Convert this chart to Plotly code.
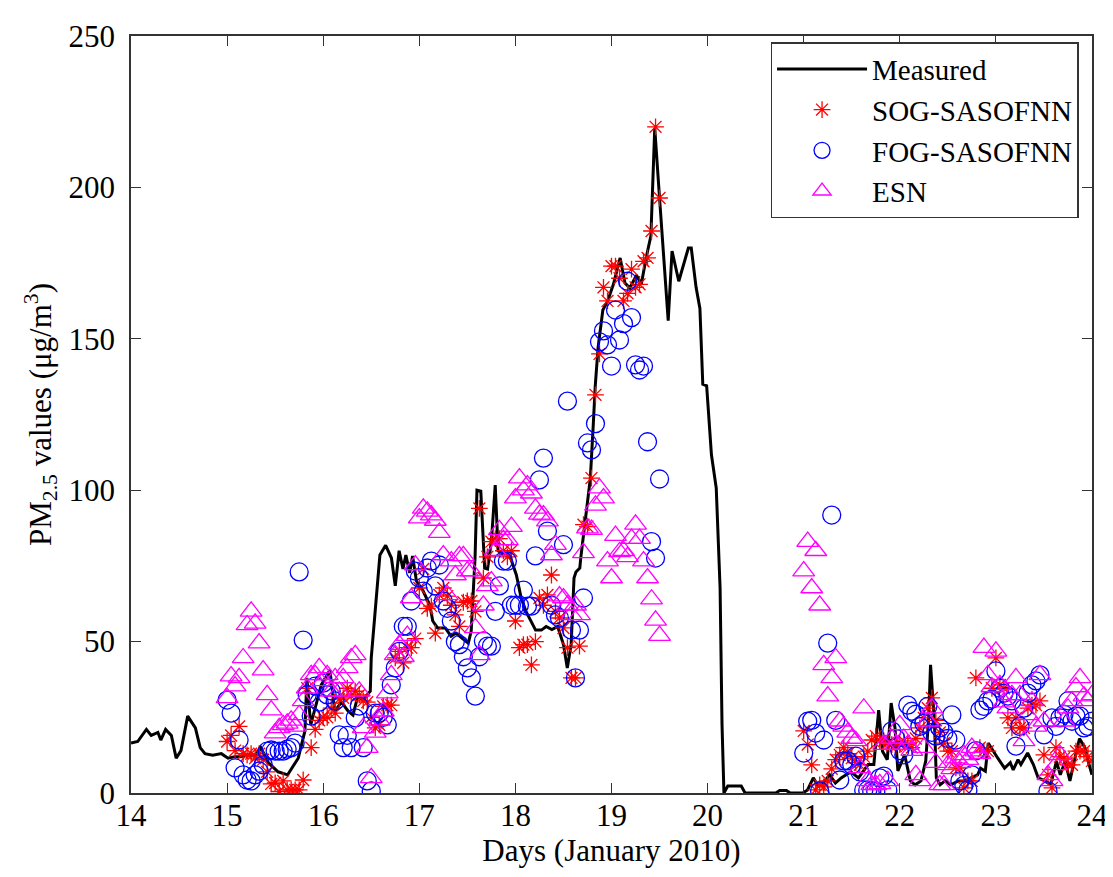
import plotly.graph_objects as go

# ---------------- data ----------------
measured_days = [14.00, 14.07, 14.16, 14.21, 14.28, 14.31, 14.36, 14.42, 14.47, 14.52,
                 14.59, 14.67, 14.72, 14.77, 14.85, 14.94, 15.01, 15.08, 15.14, 15.22,
                 15.29, 15.35, 15.43, 15.53, 15.63, 15.74, 15.81, 15.83, 15.87, 15.98,
                 16.07, 16.12, 16.19, 16.26, 16.31, 16.36, 16.41, 16.49, 16.50, 16.54,
                 16.59, 16.65, 16.71, 16.75, 16.79, 16.83, 16.86, 16.90, 16.93, 16.97,
                 17.04, 17.11, 17.14, 17.19, 17.27, 17.33, 17.38, 17.45, 17.51, 17.54,
                 17.58, 17.60, 17.64, 17.68, 17.71, 17.75, 17.79, 17.82, 17.89, 17.95,
                 18.01, 18.06, 18.11, 18.16, 18.21, 18.27, 18.32, 18.38, 18.44, 18.50,
                 18.54, 18.58, 18.61, 18.63, 18.67, 18.68, 18.72, 18.78, 18.81, 18.83,
                 18.86, 18.91, 18.96, 19.02, 19.09, 19.14, 19.19, 19.26, 19.31, 19.36,
                 19.41, 19.45, 19.50, 19.54, 19.59, 19.63, 19.70, 19.80, 19.83, 19.88,
                 19.92, 19.95, 19.99, 20.04, 20.09, 20.13, 20.15, 20.17, 20.21, 20.35,
                 20.39, 20.71, 20.75, 20.82, 20.86, 20.99, 21.04, 21.10, 21.15, 21.22,
                 21.27, 21.33, 21.39, 21.49, 21.57, 21.67, 21.73, 21.78, 21.82, 21.87,
                 21.91, 21.95, 21.98, 22.05, 22.11, 22.16, 22.22, 22.27, 22.30, 22.32,
                 22.36, 22.38, 22.42, 22.47, 22.53, 22.61, 22.68, 22.74, 22.81, 22.84,
                 22.89, 22.92, 22.97, 23.02, 23.09, 23.15, 23.18, 23.23, 23.26, 23.33,
                 23.39, 23.44, 23.51, 23.57, 23.63, 23.67, 23.72, 23.77, 23.83, 23.87,
                 23.93, 23.96, 24.00]
measured_vals = [16.5, 17, 21, 19, 20, 17.5, 21, 19, 11.5, 14,
                 25.4, 21.5, 15, 13, 12.5, 13, 11.5, 12, 12, 12.5,
                 12.5, 15, 10, 7, 6, 11.5, 20.5, 38, 22.5, 35.7,
                 40.6, 27, 30, 27, 25.7, 32, 30.7, 33.6, 44.6, 60,
                 78.6, 81.8, 77.6, 68.4, 80, 74, 78.6, 72.7, 78.3, 70,
                 66.7, 62, 56.8, 54.5, 54.5, 51.8, 52.8, 51, 49.5, 53.5,
                 77.6, 100, 99.7, 74.3, 74, 83, 101.7, 80, 78.6, 77.6,
                 72, 64.4, 60, 56.8, 53.8, 53.8, 55, 54, 55, 49,
                 41.3, 49, 71, 73, 74.3, 77.6, 88.6, 104, 121.5, 134,
                 147, 159.5, 162.5, 168, 176.7, 168.4, 166.8, 171, 168, 176.7,
                 184, 219.6, 196.5, 177.7, 156, 179, 169, 180, 180, 167,
                 160, 135, 134.5, 111.7, 100.7, 67.7, 22.8, 0, 2.3, 2.3,
                 0, 0, 0.8, 0.8, 0, 0, 1, 5, 2.3, 4,
                 6, 3.3, 5, 7, 5, 9.4, 9.4, 27.4, 13.8, 11,
                 29.7, 21.5, 7.3, 12.6, 4, 2.7, 4, 10.6, 24.8, 42.3,
                 23.7, 5, 2.7, 4, 2.7, 4, 4, 5, 6, 8.2,
                 7.2, 16.5, 13.8, 11.5, 8.2, 10, 7.6, 11, 9.4, 13.2,
                 9.4, 5, 4, 2.7, 10.5, 6, 10.5, 4, 12.6, 18,
                 14.8, 10.5, 6]

# hourly forecasts: first block starts 15 Jan 00:00, second block starts 21 Jan 00:00
block1_start = 15.0
block2_start = 21.0
hours_per_day = 24

sog_block1 = [17, 19, 14, 22, 13, 12.6, 13, 11.5, 13, 11,
              7, 3, 3.3, 0.5, 4, 1, 1, 1, 1, 4.3,
              34.6, 15, 21, 24, 25, 25, 28, 26.4, 31, 31.4,
              34.6, 32, 33.6, 32.4, 30.4, 30, 25, 21.5, 22.5, 28.6,
              29, 29, 44.6, 46.8, 43, 48, 48, 51, 67.7, 74,
              61, 61.7, 52.8, 65.4, 67.7, 65, 62, 58.8, 55, 63,
              63.4, 63.4, 60, 94, 71, 78, 83, 84, 84, 80,
              78, 80, 56.8, 48, 49, 49, 42.3, 50, 64.4, 62,
              65.4, 72, 60, 57.8, 54.5, 48, 38, 38, 48.5, 88.6,
              88, 104, 131.5, 145, 167, 162.5, 174, 174, 170, 162.5,
              165, 173, 167, 168, 175.6, 176.7, 185.6, 220, 196.5]
sog_block2 = [20.5, 16, 9.3, 1, 2.7, 2, 4, 8, 11, 12.6,
              15, 13, 11.5, 10, 9.3, 12, 13.8, 17.5, 18.8, 17.2,
              17.2, 16.5, 16, 15.5, 16, 17.2, 16, 15, 18, 21.5,
              24.8, 28, 31.4, 24, 20, 16.5, 13.8, 13.8, 8.3, 8.3,
              1.7, 4, 4, 38, 15, 13.8, 13.8, 34.6, 44.6, 35.7,
              34.6, 24.8, 21.5, 24.8, 21.5, 21.5, 28, 29, 29, 30.4,
              12.6, 6, 1.7, 15, 12, 11.5, 9.3, 9.3, 13.8, 13.8,
              13.8, 12, 10.6]

fog_block1 = [30.7, 26.4, 8.3, 17.5, 6, 4.3, 4, 6, 7.2, 9.3,
              13.8, 14.2, 13.8, 13.8, 13.8, 14.5, 15, 16.5, 73, 50.5,
              32.4, 25.4, 35.3, 30, 36.3, 32.4, 33.7, 30.4, 19.2, 15,
              19, 15, 24.8, 28.7, 15, 4, 0.7, 26.4, 26.4, 25,
              22.5, 35.7, 41.3, 46.8, 55, 55, 63.4, 73.3, 71, 66.7,
              74.3, 76.6, 68.4, 75.3, 63.4, 61, 56.8, 50, 49, 45,
              41.3, 38, 32, 45, 50.2, 48.5, 48.5, 60, 68.4, 76.6,
              76.6, 62, 62, 62, 67, 61.7, 61.7, 78.3, 103.4, 110.6,
              86.5, 62, 58.8, 57.8, 82, 129.4, 53.8, 38, 53.8, 64.4,
              115.6, 113.3, 122, 149, 152.6, 148, 141, 159.5, 149.6, 155,
              169, 157, 141.4, 139.7, 141, 116, 83, 77.6, 103.7]
fog_block2 = [13.2, 23.7, 24, 19.8, 0.7, 17.5, 49.5, 91.8, 24, 4.3,
              10.6, 10.6, 9.3, 12.2, 7, 1, 1, 0.7, 0.7, 5,
              5.6, 1, 20.5, 18, 14, 12.6, 29, 27, 26, 22,
              23, 28.6, 20, 18.8, 21.5, 20, 18, 25.8, 17.5, 4,
              2.5, 1, 6, 14, 27.4, 28.6, 30.4, 31, 40.3, 34.6,
              33, 32, 30.4, 15.5, 22, 28, 33, 35.7, 37, 39,
              19.2, 0.7, 24.8, 22, 24.8, 26, 30.4, 23.7, 25.4, 25.4,
              21.5, 22, 23.7]

esn_block1 = [31.4, 38.6, 35.3, 38, 44.6, 55.5, 60, 56, 49.5, 40.6,
              32.4, 27.4, 19.8, 21.5, 22.5, 23, 24, 22, 25.8, 30.4,
              34.6, 39, 39, 41.3, 37, 39, 33.6, 38, 33.6, 38,
              41.3, 44.6, 45.6, 33.6, 21.5, 15, 5, 20, 24, 27,
              33, 39, 45.6, 49, 45, 52, 64.4, 75.3, 90.8, 94,
              93, 91.8, 90, 86, 78.6, 65.4, 76.6, 72, 78.3, 78.3,
              73.3, 73.3, 54.5, 45.6, 62, 68.4, 70, 80, 86.9, 83.6,
              83.6, 88, 97.4, 104, 100, 101.7, 99, 94, 92, 91.8,
              89.8, 78.6, 82, 65, 64.4, 62, 58.8, 62, 58.8, 79.3,
              87.5, 87, 95, 100.7, 97.4, 76.6, 71, 85, 79.6, 80,
              78, 84, 88.7, 84, 76.6, 71, 64, 57, 52]
esn_block2 = [73.3, 83, 67.7, 80, 62, 42.3, 32, 38, 44.6, 23.7,
              22, 20, 18, 17.2, 8.3, 28, 4, 2.7, 2.7, 3,
              16, 4, 18, 16, 22.5, 18, 16, 14, 6, 4,
              15, 23.7, 28, 10, 2.7, 2.7, 9.3, 8, 11.5, 10,
              12.6, 11, 15, 13.8, 13, 48, 39, 35, 46.8, 35.7,
              30, 28, 32.4, 38, 32.4, 17.2, 25.8, 30.4, 22, 39,
              23.7, 6, 4, 9.3, 12.6, 23.7, 28, 30.4, 35, 38,
              32, 30.4, 32.4]

x_ticks = list(range(14, 25))
y_ticks = list(range(0, 251, 50))


def block_days(start, values):
    return [start + i / hours_per_day for i in range(len(values))]


def series(b1, b2):
    return block_days(block1_start, b1) + block_days(block2_start, b2), b1 + b2


sog_x, sog_y = series(sog_block1, sog_block2)
fog_x, fog_y = series(fog_block1, fog_block2)
esn_x, esn_y = series(esn_block1, esn_block2)

# ---------------- figure ----------------
FONT = "Liberation Serif, Times New Roman, serif"

fig = go.Figure()
fig.add_trace(go.Scatter(x=measured_days, y=measured_vals, mode="lines",
                         name="Measured", line=dict(color="black", width=3)))
fig.add_trace(go.Scatter(x=sog_x, y=sog_y, mode="markers", name="SOG-SASOFNN",
                         marker=dict(symbol="asterisk-open", size=14, color="red",
                                     line=dict(color="red", width=1.3))))
fig.add_trace(go.Scatter(x=fog_x, y=fog_y, mode="markers", name="FOG-SASOFNN",
                         marker=dict(symbol="circle-open", size=18, color="blue",
                                     line=dict(color="blue", width=1.3))))
fig.add_trace(go.Scatter(x=esn_x, y=esn_y, mode="markers", name="ESN",
                         marker=dict(symbol="triangle-up-open", size=19, color="magenta",
                                     line=dict(color="magenta", width=1.3))))

axis_common = dict(showline=True, linecolor="#333333", linewidth=1.5, mirror="ticks",
                   ticks="inside", ticklen=10, tickwidth=1.2, tickcolor="#333333",
                   showgrid=False, zeroline=False,
                   tickfont=dict(family=FONT, size=31, color="black"))

fig.update_xaxes(range=[14, 24], tickvals=x_ticks, ticktext=[str(v) for v in x_ticks],
                 title=dict(text="Days (January 2010)", font=dict(family=FONT, size=31, color="black"),
                            standoff=6),
                 ticklabelstandoff=-6, **axis_common)
fig.update_yaxes(range=[0, 250], tickvals=y_ticks, ticktext=[str(v) for v in y_ticks],
                 title=dict(text="PM<sub>2.5</sub> values (μg/m<sup>3</sup>)",
                            font=dict(family=FONT, size=31, color="black"), standoff=8),
                 ticklabelstandoff=8, **axis_common)

fig.update_layout(
    width=1113, height=877,
    margin=dict(l=123, r=29, t=28, b=92),
    plot_bgcolor="white", paper_bgcolor="white",
    showlegend=True,
    legend=dict(x=0.986, y=0.992, xanchor="right", yanchor="top",
                bgcolor="white", bordercolor="#333333", borderwidth=1.5,
                font=dict(family=FONT, size=29, color="black"),
                itemwidth=90, tracegroupgap=0),
)

fig.write_html("out.html")
